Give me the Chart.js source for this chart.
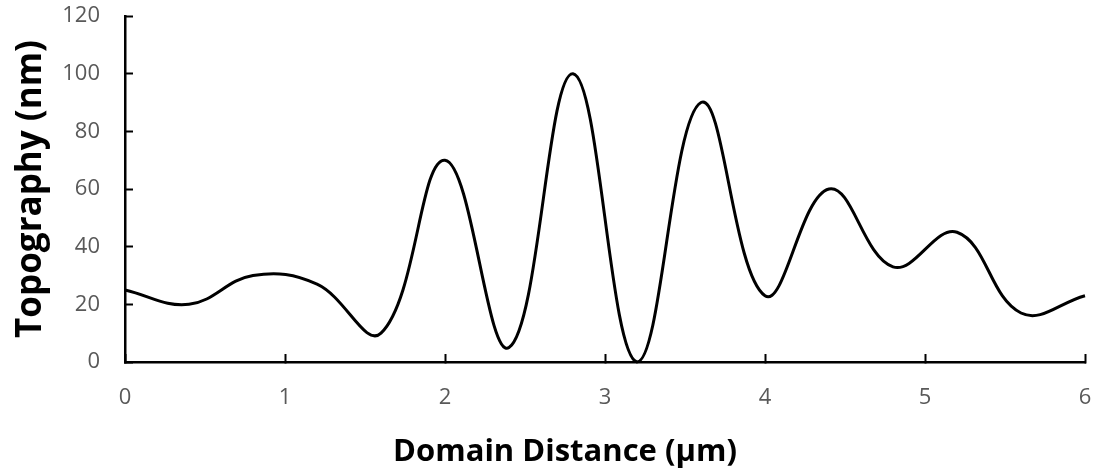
<!DOCTYPE html>
<html>
<head>
<meta charset="utf-8">
<title>Topography</title>
<script src="https://cdn.jsdelivr.net/npm/chart.js@4/dist/chart.umd.min.js"></script>
<style>
	body { margin: 0; background: #ffffff; }
	#wrap { position: relative; width: 1095px; height: 472px; }
</style>
</head>
<body>
<div id="wrap"><canvas id="topoChart"></canvas></div>
<script>
	// values
	var distance = [0, 0.4, 0.8, 1.2, 1.6, 2.0, 2.4, 2.8, 3.2, 3.6, 4.0, 4.4, 4.8, 5.2, 5.6, 6.0];
	var topography = [25, 20, 30, 27, 10, 70, 5, 100, 0, 90, 23, 60, 33, 45, 17, 23];
	var xTicks = [0, 1, 2, 3, 4, 5, 6];
	var yTicks = [0, 20, 40, 60, 80, 100, 120];
	var xTitle = 'Domain Distance (µm)';
	var yTitle = 'Topography (nm)';

	var tickFont = { family: "'Open Sans', sans-serif", size: 22 };
	var yTitleFont = { family: "'Open Sans', sans-serif", size: 35, weight: 'bold' };
	var xTitleSize = 31;

	var points = distance.map(function(d, i) {
		return { x: d, y: topography[i] };
	});

	// x title sits left of the plot centre in the original, so it is drawn here
	var xTitlePlugin = {
		id: 'xTitle',
		afterDraw: function(chart) {
			var ctx = chart.ctx;
			ctx.save();
			ctx.font = 'bold ' + xTitleSize + 'px ' + tickFont.family;
			ctx.fillStyle = '#000000';
			ctx.textAlign = 'center';
			ctx.textBaseline = 'alphabetic';
			ctx.fillText(xTitle, 565, 461);
			ctx.restore();
		}
	};

	function noPadding(scale) {
		scale.paddingTop = 0;
		scale.paddingBottom = 0;
		scale.paddingLeft = 0;
		scale.paddingRight = 0;
	}

	new Chart(document.getElementById('topoChart'), {
		type: 'scatter',
		data: {
			datasets: [{
				data: points,
				showLine: true,
				borderColor: '#000000',
				borderWidth: 3,
				pointRadius: 0,
				pointHoverRadius: 0,
				tension: 0.4,
				clip: false
			}]
		},
		options: {
			responsive: true,
			maintainAspectRatio: false,
			animation: false,
			layout: { padding: { top: 16, right: 10, left: 0, bottom: 0 } },
			plugins: {
				legend: { display: false },
				tooltip: { enabled: false }
			},
			scales: {
				x: {
					type: 'linear',
					min: xTicks[0],
					max: xTicks[xTicks.length - 1],
					afterBuildTicks: function(scale) {
						scale.ticks = xTicks.map(function(v) { return { value: v }; });
					},
					afterFit: function(scale) { scale.height = 110; noPadding(scale); },
					border: { display: true, color: '#000000', width: 2.5 },
					grid: { display: true, drawOnChartArea: false, drawTicks: true, tickLength: -8, tickWidth: 2, tickColor: '#000000' },
					ticks: { font: tickFont, color: '#595959', padding: 31, maxRotation: 0 }
				},
				y: {
					min: yTicks[0],
					max: yTicks[yTicks.length - 1],
					afterBuildTicks: function(scale) {
						scale.ticks = yTicks.map(function(v) { return { value: v }; });
					},
					afterFit: function(scale) { scale.width = 125; noPadding(scale); },
					border: { display: true, color: '#000000', width: 2.5 },
					grid: { display: true, drawOnChartArea: false, drawTicks: true, tickLength: -8, tickWidth: 2, tickColor: '#000000' },
					ticks: { font: tickFont, color: '#595959', padding: 33 },
					title: { display: true, text: yTitle, font: yTitleFont, color: '#000000', padding: { top: 10, bottom: 0 } }
				}
			}
		},
		plugins: [xTitlePlugin]
	});
</script>
</body>
</html>
